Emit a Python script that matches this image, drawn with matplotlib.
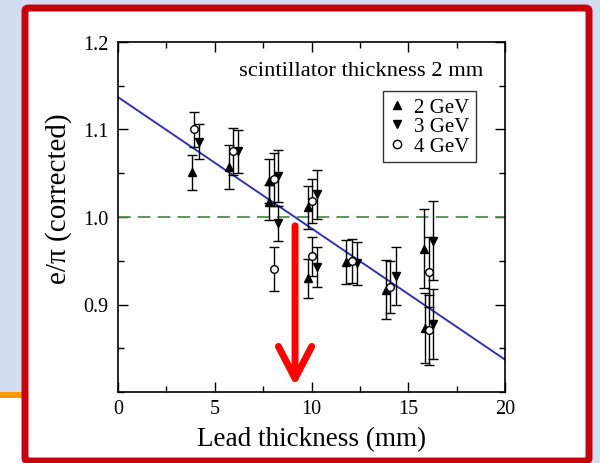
import matplotlib.pyplot as plt
import matplotlib.patches as patches
from matplotlib.lines import Line2D
from matplotlib.ticker import MultipleLocator

plt.rcParams['font.family'] = ['Liberation Serif', 'DejaVu Serif']

## Data: e/pi ratio vs lead thickness, three beam energies
x_2gev = [3.8, 5.75, 7.8, 7.8, 9.8, 9.8, 11.8, 13.85, 15.8, 15.85]
y_2gev = [1.051, 1.057, 1.041, 1.017, 1.011, 0.930, 0.949, 0.917, 0.964, 0.873]
e_2gev = [0.02, 0.025, 0.025, 0.02, 0.025, 0.022, 0.025, 0.034, 0.045, 0.04]

x_3gev = [4.2, 6.2, 8.25, 8.25, 10.3, 10.3, 12.35, 14.35, 16.3, 16.3]
y_3gev = [1.086, 1.075, 1.047, 0.993, 1.026, 0.943, 0.947, 0.933, 0.973, 0.878]
e_3gev = [0.02, 0.025, 0.03, 0.02, 0.028, 0.023, 0.025, 0.033, 0.045, 0.04]

x_4gev = [3.95, 5.95, 8.05, 8.05, 10.05, 10.05, 12.1, 14.05, 16.05, 16.05]
y_4gev = [1.10, 1.075, 1.043, 0.941, 1.018, 0.955, 0.950, 0.920, 0.937, 0.871]
e_4gev = [0.02, 0.027, 0.03, 0.025, 0.025, 0.022, 0.025, 0.03, 0.04, 0.04]

## Linear fit and reference level
fit_x = [0, 20]
fit_y = [1.137, 0.837]
ref_level = 1.0
cross_x = 9.15

fig = plt.figure(figsize=(6, 4.64), dpi=100)
fig.patch.set_facecolor('#d2ddf1')

## slide decoration on the left edge
fig.patches.append(patches.Rectangle((0, 0), 0.04, 0.153, transform=fig.transFigure,
                                     facecolor='white', edgecolor='none', zorder=0))
fig.patches.append(patches.Rectangle((0, 0.140), 0.04, 0.014, transform=fig.transFigure,
                                     facecolor='#ff9a00', edgecolor='none', zorder=0))
fig.lines.append(plt.Line2D([0, 0.04], [0.062, 0.062], transform=fig.transFigure,
                            color='black', lw=1.2, zorder=0))

## red frame around the plot
frame = patches.FancyBboxPatch((25 / 600, 2 / 464), 564 / 600, 453 / 464,
                               boxstyle='round,pad=0,rounding_size=0.006',
                               transform=fig.transFigure, facecolor='white',
                               edgecolor='#c8000e', lw=5, zorder=0.5)
fig.patches.append(frame)

ax = fig.add_axes([118 / 600, 1 - 393 / 464, 387 / 600, 350 / 464])
ax.set_zorder(2)
ax.set_facecolor('none')

ax.plot(fit_x, fit_y, color='#3333b0', lw=1.4, zorder=2)
ax.axhline(ref_level, color='#4f8f4f', lw=1.3, dashes=(7, 4), zorder=2)

kw = dict(color='black', ecolor='black', elinewidth=1.0, capsize=3.5,
          capthick=1.0, markersize=5.5, zorder=3, linestyle='none')
ax.errorbar(x_2gev, y_2gev, yerr=e_2gev, fmt='^', **kw)
ax.errorbar(x_3gev, y_3gev, yerr=e_3gev, fmt='v', **kw)
ax.errorbar(x_4gev, y_4gev, yerr=e_4gev, fmt='o', markerfacecolor='white', **kw)

## arrow marking where the fit crosses 1
ax.annotate('', xy=(cross_x, 0.807), xytext=(cross_x, 0.990),
            arrowprops=dict(arrowstyle='->, head_length=1.15, head_width=0.6',
                            color='#ff0000', lw=5, mutation_scale=20,
                            shrinkA=0, shrinkB=0),
            annotation_clip=False, zorder=5)

ax.set_xlim(0, 20)
ax.set_ylim(0.8, 1.2)
ax.xaxis.set_major_locator(MultipleLocator(5))
ax.xaxis.set_minor_locator(MultipleLocator(2.5))
ax.yaxis.set_major_locator(MultipleLocator(0.1))
ax.yaxis.set_minor_locator(MultipleLocator(0.05))
ax.set_yticks([0.9, 1.0, 1.1, 1.2])
ax.set_yticklabels(['0.9', '1.0', '1.1', '1.2'])
ax.tick_params(which='both', direction='in', top=True, right=True,
               labelsize=14.5, width=1.0)
ax.tick_params(which='major', length=7)
ax.tick_params(which='minor', length=4)
ax.tick_params(axis='y', pad=7)
ax.tick_params(axis='x', pad=5)
for s in ax.spines.values():
    s.set_linewidth(1.2)

ax.set_xlabel('Lead thickness (mm)', fontsize=19.5)
ax.xaxis.set_label_coords(0.5, -0.097)
ax.set_ylabel('e/\u03c0 (corrected)', fontsize=21)
ax.yaxis.set_label_coords(-0.118, 0.555)

ax.text(0.945, 0.92, 'scintillator thickness 2 mm', transform=ax.transAxes,
        ha='right', va='center', fontsize=16.2)

handles = [Line2D([], [], color='black', marker='^', ls='none', markersize=6),
           Line2D([], [], color='black', marker='v', ls='none', markersize=6),
           Line2D([], [], color='black', marker='o', markerfacecolor='white',
                  ls='none', markersize=6)]
leg = ax.legend(handles, ['2 GeV', '3 GeV', '4 GeV'], loc='upper right',
                bbox_to_anchor=(0.925, 0.86), fontsize=15,
                frameon=True, fancybox=False, edgecolor='black',
                handlelength=0.7, handletextpad=0.5, borderpad=0.3,
                labelspacing=0.0, numpoints=1, borderaxespad=0)
leg.get_frame().set_linewidth(1.0)

fig.savefig('out.png', dpi=100, facecolor=fig.get_facecolor())
